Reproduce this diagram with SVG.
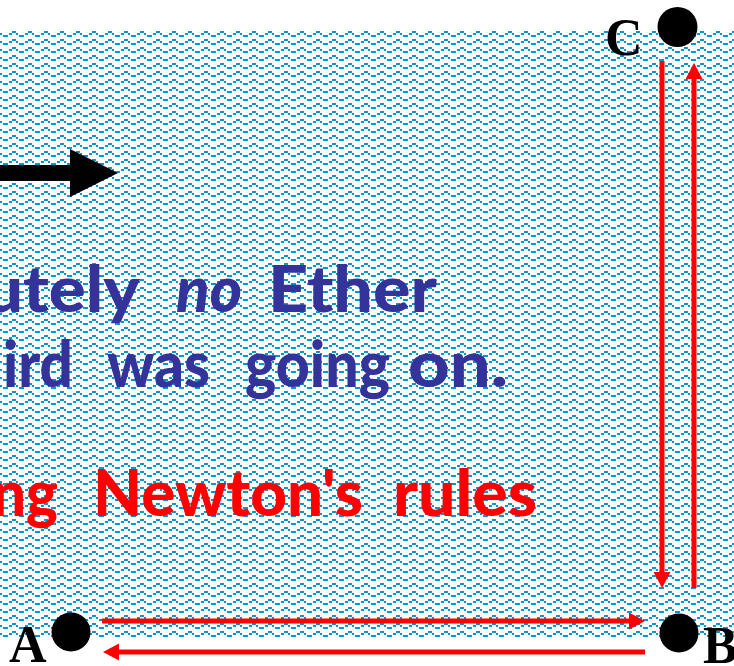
<svg xmlns="http://www.w3.org/2000/svg" width="734" height="666" viewBox="0 0 734 666">
  <defs>
    <pattern id="wave" patternUnits="userSpaceOnUse" x="0" y="31" width="16" height="8">
      <rect x="12" y="0" width="4" height="2" fill="#0099cc"/>
      <rect x="0" y="2" width="2" height="2" fill="#0099cc"/>
      <rect x="9" y="2" width="3" height="2" fill="#0099cc"/>
      <rect x="3" y="4" width="5" height="2" fill="#0099cc"/>
    </pattern>
    <marker id="head" markerUnits="userSpaceOnUse" markerWidth="17" markerHeight="18" refX="1" refY="8.5" orient="auto">
      <path d="M0,0 L16,8.5 L0,17 Z" fill="#ff0000"/>
    </marker>
    <style>
      .blue { font-family: Lato, "DejaVu Sans", sans-serif; font-weight: 900; font-size: 64px; fill: #333399; }
      .red { font-family: Lato, "DejaVu Sans", sans-serif; font-weight: 900; font-size: 64px; fill: #ff0000; }
      .lbl { font-family: "Liberation Serif", serif; font-weight: bold; font-size: 52px; fill: #000000; }
      .conn { stroke: #ff0000; stroke-width: 5; fill: none; marker-end: url(#head); }
    </style>
  </defs>
  <rect x="0" y="0" width="734" height="666" fill="#ffffff"/>
  <rect id="background" x="0" y="31" width="734" height="606" fill="url(#wave)"/>

  <polygon id="bigArrow" points="0,165 70,165 70,149 118,173 70,197 70,181 0,181" fill="#000000"/>

  <g id="text">
    <text class="blue" y="312"><tspan x="-16" textLength="156" lengthAdjust="spacingAndGlyphs">utely</tspan><tspan x="176" font-style="italic" textLength="66" lengthAdjust="spacingAndGlyphs">no</tspan><tspan x="268" textLength="169" lengthAdjust="spacingAndGlyphs">Ether</tspan></text>
    <text class="blue" y="387"><tspan x="3" textLength="70" lengthAdjust="spacingAndGlyphs">ird</tspan><tspan x="107" textLength="103" lengthAdjust="spacingAndGlyphs">was</tspan><tspan x="245" textLength="145" lengthAdjust="spacingAndGlyphs">going</tspan><tspan x="408" textLength="100" lengthAdjust="spacingAndGlyphs">on.</tspan></text>
    <text class="red" y="516"><tspan x="-8" textLength="66" lengthAdjust="spacingAndGlyphs">ng</tspan><tspan x="93" textLength="270" lengthAdjust="spacingAndGlyphs">Newton's</tspan><tspan x="393" textLength="144" lengthAdjust="spacingAndGlyphs">rules</tspan></text>
  </g>

  <g id="connectors">
    <line class="conn" x1="662" y1="61" x2="662" y2="573"/>
    <line class="conn" x1="694" y1="588" x2="694" y2="78"/>
    <line class="conn" x1="102" y1="621" x2="630" y2="621"/>
    <line class="conn" x1="645" y1="652" x2="118" y2="652"/>
  </g>

  <g id="nodeA">
    <circle cx="71" cy="632" r="19.5" fill="#000000"/>
    <text class="lbl" x="9" y="662">A</text>
  </g>
  <g id="nodeB">
    <circle cx="679" cy="633" r="19.5" fill="#000000"/>
    <text class="lbl" x="703" y="663">B</text>
  </g>
  <g id="nodeC">
    <circle cx="677.5" cy="27" r="20" fill="#000000"/>
    <text class="lbl" x="605" y="55">C</text>
  </g>
</svg>
